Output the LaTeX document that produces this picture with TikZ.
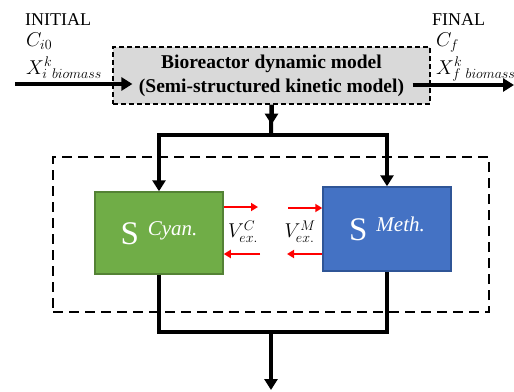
\RequirePackage{fix-cm}
\documentclass[tikz,border=0pt]{standalone}
\usepackage{fontspec}
\setmainfont{Liberation Serif}
\usetikzlibrary{arrows.meta}
\definecolor{modelgray}{HTML}{D9D9D9}
\definecolor{cyanfill}{HTML}{70AD47}
\definecolor{cyanedge}{HTML}{548235}
\definecolor{methfill}{HTML}{4472C4}
\definecolor{methedge}{HTML}{2F5597}
\definecolor{fluxred}{HTML}{FF0000}
\tikzset{
  flowline/.style={line width=4pt},
  flowarrow/.style={line width=4pt, -{Triangle[length=11pt,width=13pt]}},
  fluxarrow/.style={line width=2.5pt, fluxred, -{Triangle[length=7pt,width=8pt]}},
  modelbox/.style={draw, fill=modelgray, dashed, dash pattern=on 5pt off 3pt,
    line width=1.2pt, inner sep=0pt, align=center,
    font=\fontsize{19.5}{24}\selectfont\bfseries},
  groupbox/.style={draw, dashed, dash pattern=on 10pt off 6pt, line width=2.5pt,
    inner sep=0pt},
  organism/.style={draw, line width=1.5pt, text=white, inner sep=0pt,
    minimum width=128pt},
  plain/.style={inner sep=0pt, font=\fontsize{18}{18}\selectfont},
  mathlabel/.style={inner sep=0pt, font=\fontsize{20}{20}\selectfont},
}
\newcommand{\organismlabel}[1]{{\fontsize{33}{33}\selectfont S}\hspace{9pt}\raisebox{9pt}{\fontsize{21}{21}\selectfont\itshape #1}}
\begin{document}
\begin{tikzpicture}[x=1pt,y=-1pt]
\useasboundingbox (0,0) rectangle (514,391);

% dashed boundary around the two-species community
\node[groupbox, minimum width=436pt, minimum height=155pt] (group) at (271,234.5) {};

% bioreactor model
\node[modelbox, minimum width=317pt, minimum height=57pt] (model) at (271.5,75.5)
  {Bioreactor dynamic model\\(Semi-structured kinetic model)};

% species boxes
\node[organism, fill=cyanfill, draw=cyanedge, minimum height=82pt] (cyan) at (159,233)
  {\organismlabel{Cyan.}};
\node[organism, fill=methfill, draw=methedge, minimum height=84pt] (meth) at (387,229)
  {\organismlabel{Meth.}};

% initial and final conditions
\node[plain, anchor=base west] (initial) at (25,25) {INITIAL};
\node[mathlabel, anchor=base west] (ci) at (26,46) {$C_{i0}$};
\node[mathlabel, anchor=base west] (xi) at (26,74) {$X_{i\ biomass}^{k}$};
\node[plain, anchor=base west] (final) at (432,25) {FINAL};
\node[mathlabel, anchor=base west] (cf) at (436,46) {$C_{f}$};
\node[mathlabel, anchor=base west] (xf) at (436,74) {$X_{f\ biomass}^{k}$};

% input and output streams
\coordinate (inflow) at (15,84);
\coordinate (outflow) at (514,85);
\draw[flowarrow] (inflow) -- ([xshift=20pt]model.west |- inflow);
\draw[flowarrow] ([xshift=-18pt]model.east |- outflow) -- (outflow);

% split to both species
\coordinate (split) at (271,135);
\draw[flowline] (model.south) -- (split);
\draw[flowarrow] (model.south) -- ++(0,20);
\draw[flowarrow] (split) -| (cyan.north);
\draw[flowarrow] (split) -| (meth.north);

% merge back to the outlet
\coordinate (merge) at (271,332);
\coordinate (outlet) at (271,390);
\draw[flowline] (cyan.south) -- (cyan.south |- merge) -- (meth.south |- merge) -- (meth.south);
\draw[flowarrow] (merge) -- (outlet);

% exchange fluxes
\coordinate (cout) at (258,207);
\coordinate (cin) at (260,254);
\coordinate (min) at (288,208);
\coordinate (mout) at (287,254);
\draw[fluxarrow] (cyan.east |- cout) -- (cout);
\draw[fluxarrow] (cin) -- (cyan.east |- cin);
\draw[fluxarrow] (min) -- (meth.west |- min);
\draw[fluxarrow] (meth.west |- mout) -- (mout);
\node[mathlabel] (vc) at (243,232) {$V_{ex.}^{C}$};
\node[mathlabel] (vm) at (300,232) {$V_{ex.}^{M}$};
\end{tikzpicture}
\end{document}
